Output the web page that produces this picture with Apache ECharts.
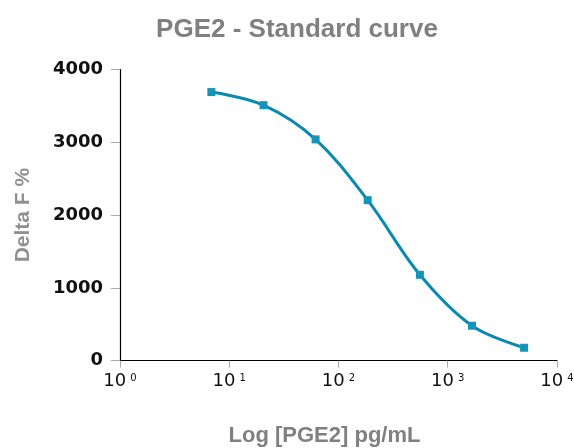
<!DOCTYPE html>
<html>
<head>
<meta charset="utf-8">
<script src="https://cdn.jsdelivr.net/npm/echarts@6/dist/echarts.min.js"></script>
<style>
    html, body { margin: 0; padding: 0; background: #fff; }
    #chart { width: 574px; height: 448px; }
</style>
</head>
<body>
<div id="chart"></div>
<script>
// PGE2 standard points (3-fold dilution series)
var concentrations = [6.86, 20.6, 61.7, 185, 556, 1667, 5000];
var deltaF = [3690, 3510, 3040, 2205, 1180, 480, 178];

var lineColor = '#0a8ab0';

var chart = echarts.init(document.getElementById('chart'));
var points = [];
for (var i = 0; i < concentrations.length; i++) {
    points.push([concentrations[i], deltaF[i]]);
}

option = {
    animation: false,
    title: {
        text: 'PGE2 - Standard curve',
        left: 292,
        textAlign: 'center',
        top: 12,
        textStyle: {
            fontFamily: 'Liberation Sans',
            fontWeight: 'bold',
            fontSize: 26,
            color: '#808080'
        }
    },
    grid: {
        left: 120,
        right: 17,
        top: 69.5,
        bottom: 87.3,
        outerBoundsMode: 'none'
    },
    xAxis: {
        type: 'log',
        logBase: 10,
        min: 1,
        max: 10000,
        name: 'Log [PGE2] pg/mL',
        nameLocation: 'middle',
        nameGap: 64,
        nameTextStyle: {
            fontFamily: 'Liberation Sans',
            fontWeight: 'bold',
            fontSize: 22,
            color: '#808080',
            padding: [0, 28, 0, 0]
        },
        axisLine: { lineStyle: { color: '#000', width: 1.2 } },
        axisTick: { length: 7, lineStyle: { color: '#aaa' } },
        splitLine: { show: false },
        axisLabel: {
            margin: 12,
            formatter: function (v) {
                var e = Math.round(Math.log10(v));
                return '{b|10}{s|' + e + '}';
            },
            rich: {
                b: { fontFamily: 'DejaVu Sans', fontSize: 18, color: '#111', verticalAlign: 'bottom' },
                s: { fontFamily: 'DejaVu Sans', fontSize: 10, color: '#111', padding: [0, 0, 7, 4] }
            }
        }
    },
    yAxis: {
        type: 'value',
        min: 0,
        max: 4000,
        interval: 1000,
        name: 'Delta F %',
        nameLocation: 'middle',
        nameGap: 86,
        nameTextStyle: {
            fontFamily: 'Liberation Sans',
            fontWeight: 'bold',
            fontSize: 21,
            color: '#909090'
        },
        axisLine: { show: true, lineStyle: { color: '#000', width: 1.2 } },
        axisTick: { show: true, length: 9, lineStyle: { color: '#aaa' } },
        splitLine: { show: false },
        axisLabel: {
            margin: 17,
            formatter: function (v) { return String(v); },
            fontFamily: 'DejaVu Sans',
            fontWeight: 'bold',
            fontSize: 18,
            color: '#111'
        }
    },
    series: [{
        type: 'line',
        data: points,
        smooth: 0.35,
        symbol: 'rect',
        symbolSize: 8,
        lineStyle: { color: lineColor, width: 3 },
        itemStyle: { color: '#1593b8' }
    }]
};
chart.setOption(option);
</script>
</body>
</html>
